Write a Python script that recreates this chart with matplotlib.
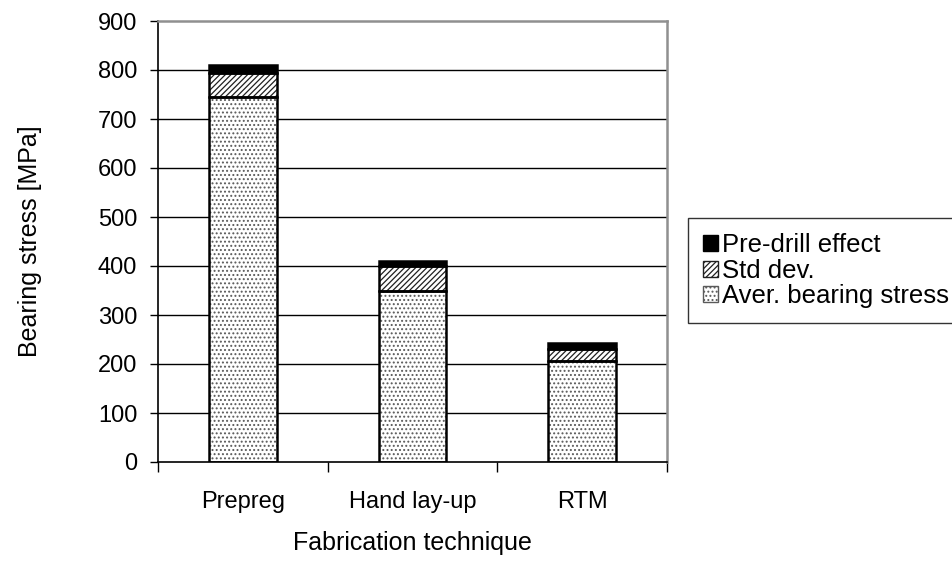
import matplotlib
matplotlib.use("Agg")
import matplotlib.pyplot as plt
from matplotlib.patches import Patch
import numpy as np

plt.rcParams['font.family'] = ['Liberation Sans', 'DejaVu Sans']
plt.rcParams['hatch.linewidth'] = 0.9

categories = ["Prepreg", "Hand lay-up", "RTM"]
aver_stress = [744, 350, 207]
std_dev = [49, 50, 23]
predrill = [17, 11, 12]
y_ticks = [0, 100, 200, 300, 400, 500, 600, 700, 800, 900]

fig = plt.figure(figsize=(9.52, 5.61), dpi=100)
ax = fig.add_axes([158 / 952, 1 - 462 / 561, (667 - 158) / 952, (462 - 21) / 561])

x = np.arange(len(categories))
width = 0.4
fs_tick = 17
fs_label = 18
fs_leg = 18.5

# horizontal gridlines behind the bars
for t in y_ticks[1:-1]:
    ax.axhline(t, color='black', lw=1.0, zorder=0)

bottom2 = np.array(aver_stress)
bottom3 = bottom2 + np.array(std_dev)

# pattern fills (hatch colour taken from edge colour)
ax.bar(x, aver_stress, width, color='white', edgecolor='#5a5a5a', hatch='....', lw=0, zorder=2)
ax.bar(x, std_dev, width, bottom=bottom2, color='white', edgecolor='#202020', hatch='//////', lw=0, zorder=2)
ax.bar(x, predrill, width, bottom=bottom3, color='black', edgecolor='black', lw=0, zorder=2)

# solid outlines
for vals, bot in [(aver_stress, 0), (std_dev, bottom2), (predrill, bottom3)]:
    ax.bar(x, vals, width, bottom=bot, fill=False, edgecolor='black', lw=1.8, zorder=3)

ax.set_xlim(-0.5, 2.5)
ax.set_ylim(0, 900)
ax.set_yticks(y_ticks)
ax.set_yticklabels([str(t) for t in y_ticks], fontsize=fs_tick)
ax.tick_params(axis='y', direction='out', length=6, width=1, pad=9)

ax.set_xticks(x)
ax.set_xticklabels(categories, fontsize=fs_tick)
ax.tick_params(axis='x', which='major', length=0, pad=21)
ax.set_xticks([-0.5, 0.5, 1.5, 2.5], minor=True)
ax.tick_params(axis='x', which='minor', direction='out', length=7, width=1)

ax.spines['left'].set_color('black')
ax.spines['bottom'].set_color('black')
ax.spines['left'].set_linewidth(1.2)
ax.spines['bottom'].set_linewidth(1.2)
for s in ('top', 'right'):
    ax.spines[s].set_color('#909090')
    ax.spines[s].set_linewidth(1.8)

ax.set_ylabel("Bearing stress [MPa]", fontsize=fs_label, labelpad=40)
ax.set_xlabel("Fabrication technique", fontsize=fs_label, labelpad=13)

handles = [
    Patch(facecolor='black', edgecolor='black', label='Pre-drill effect'),
    Patch(facecolor='white', edgecolor='#202020', hatch='//////', label='Std dev.'),
    Patch(facecolor='white', edgecolor='#5a5a5a', hatch='....', label='Aver. bearing stress'),
]
leg = fig.legend(handles=handles, loc='upper left', bbox_to_anchor=(688 / 952, 1 - 218 / 561),
                 fontsize=fs_leg, frameon=True, fancybox=False, shadow=False,
                 handlelength=0.58, handleheight=0.58, handletextpad=0.15,
                 labelspacing=0.05, borderpad=0.6, borderaxespad=0)
leg.get_frame().set_edgecolor('black')
leg.get_frame().set_linewidth(1.0)

fig.savefig("out.png", dpi=100, facecolor='white')
